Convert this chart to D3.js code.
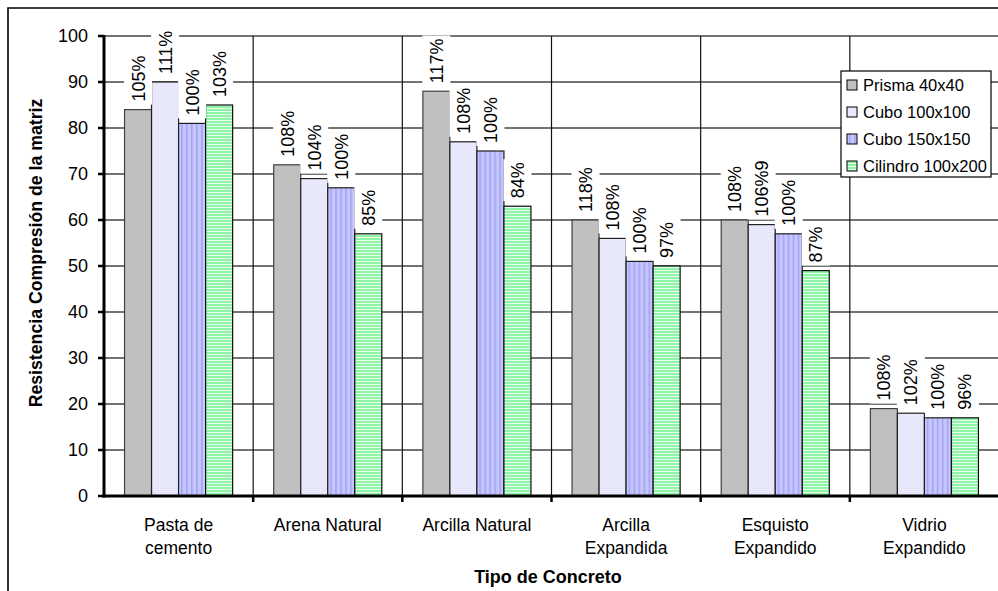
<!DOCTYPE html>
<html>
<head>
<meta charset="utf-8">
<script src="https://cdn.jsdelivr.net/npm/d3@7"></script>
<style>
  html, body { margin: 0; padding: 0; background: #fff; }
  svg { display: block; font-family: "Liberation Sans", Arial, sans-serif; }
</style>
</head>
<body>
<svg id="chart" width="998" height="591"></svg>
<script>
// Concrete types (x categories) and their wrapped label lines
const categories = ["Pasta de cemento", "Arena Natural", "Arcilla Natural", "Arcilla Expandida", "Esquisto Expandido", "Vidrio Expandido"];
const categoryLines = [["Pasta de", "cemento"], ["Arena Natural"], ["Arcilla Natural"], ["Arcilla", "Expandida"], ["Esquisto", "Expandido"], ["Vidrio", "Expandido"]];

// Specimen series
const series = ["Prisma 40x40", "Cubo 100x100", "Cubo 150x150", "Cilindro 100x200"];

// Matrix compressive strength per specimen type
const prisma   = [84, 72, 88, 60, 60, 19];
const cubo100  = [90, 69, 77, 56, 59, 18];
const cubo150  = [81, 67, 75, 51, 57, 17];
const cilindro = [85, 57, 63, 50, 49, 17];

// Relative strength labels (vs. Cubo 150x150)
const prismaLbl   = ["105%", "108%", "117%", "118%", "108%", "108%"];
const cubo100Lbl  = ["111%", "104%", "108%", "108%", "106%9", "102%"];
const cubo150Lbl  = ["100%", "100%", "100%", "100%", "100%", "100%"];
const cilindroLbl = ["103%", "85%", "84%", "97%", "87%", "96%"];

const yTicks = [0, 10, 20, 30, 40, 50, 60, 70, 80, 90, 100];

const seriesValues = [prisma, cubo100, cubo150, cilindro];
const seriesLabels = [prismaLbl, cubo100Lbl, cubo150Lbl, cilindroLbl];

const svg = d3.select("#chart");
const defs = svg.append("defs");

// Fill patterns
const pLav = defs.append("pattern").attr("id", "pLav").attr("patternUnits", "userSpaceOnUse")
  .attr("width", 4).attr("height", 4);
pLav.append("rect").attr("width", 4).attr("height", 4).attr("fill", "#eaeafc");
pLav.append("rect").attr("x", 0).attr("y", 0).attr("width", 1).attr("height", 1).attr("fill", "#dadaf4");
pLav.append("rect").attr("x", 2).attr("y", 2).attr("width", 1).attr("height", 1).attr("fill", "#dadaf4");

const pBlue = defs.append("pattern").attr("id", "pBlue").attr("patternUnits", "userSpaceOnUse")
  .attr("width", 5).attr("height", 5);
pBlue.append("rect").attr("width", 5).attr("height", 5).attr("fill", "#c6c6ff");
pBlue.append("rect").attr("x", 2).attr("width", 1.6).attr("height", 5).attr("fill", "#a4a4f2");

const pGreen = defs.append("pattern").attr("id", "pGreen").attr("patternUnits", "userSpaceOnUse")
  .attr("width", 5).attr("height", 3);
pGreen.append("rect").attr("width", 5).attr("height", 3).attr("fill", "#8ef4a6");
pGreen.append("rect").attr("y", 0).attr("width", 5).attr("height", 1).attr("fill", "#e8fbee");

const fills = ["#c0c0c0", "url(#pLav)", "url(#pBlue)", "url(#pGreen)"];
const strokes = ["#404040", "#202020", "#202020", "#101010"];

// Outer frame
svg.append("path").attr("d", "M8,591 L8,8 L998,8").attr("fill", "none")
  .attr("stroke", "#000").attr("stroke-width", 1.6);

// Scales
const x0 = d3.scaleBand().domain(categories).range([104, 999]).padding(0);
const x1 = d3.scaleBand().domain(series).range([0, x0.bandwidth()]).paddingInner(0).paddingOuter(0.76);
const y = d3.scaleLinear().domain([0, 100]).range([496, 36]);

// Horizontal gridlines
svg.append("g").selectAll("line").data(yTicks.filter(d => d > 0)).join("line")
  .attr("x1", 104).attr("x2", 998)
  .attr("y1", d => y(d)).attr("y2", d => y(d))
  .attr("stroke", "#444").attr("stroke-width", 1.3);

// Vertical gridlines at category boundaries
svg.append("g").selectAll("line").data(categories.slice(1)).join("line")
  .attr("x1", d => x0(d)).attr("x2", d => x0(d))
  .attr("y1", y(100)).attr("y2", y(0))
  .attr("stroke", "#111").attr("stroke-width", 1.2);

// Bars
const groups = svg.append("g").selectAll("g").data(categories).join("g")
  .attr("transform", d => `translate(${x0(d)},0)`);

const barData = (c, ci) => series.map((s, si) => ({ s, si, ci, v: seriesValues[si][ci], lbl: seriesLabels[si][ci] }));

groups.selectAll("rect.bar").data(barData).join("rect")
  .attr("class", "bar")
  .attr("x", d => x1(d.s)).attr("width", x1.bandwidth())
  .attr("y", d => y(d.v)).attr("height", d => y(0) - y(d.v))
  .attr("fill", d => fills[d.si]).attr("stroke", d => strokes[d.si]).attr("stroke-width", 1.2);

// Value labels with white background
const labelFont = 18;
const lbls = groups.selectAll("g.lbl").data(barData).join("g").attr("class", "lbl")
  .attr("transform", d => `translate(${x1(d.s) + x1.bandwidth() / 2},${y(d.v) - 8}) rotate(-90)`);
lbls.append("rect").attr("class", "lblbg").attr("fill", "#fff");
lbls.append("text").attr("x", 0).attr("y", 0).attr("dy", "0.36em")
  .attr("font-size", labelFont).attr("fill", "#000").text(d => d.lbl);
lbls.each(function () {
  const g = d3.select(this);
  const w = g.select("text").node().getComputedTextLength();
  g.select("rect").attr("x", -3).attr("y", -x1.bandwidth() / 2 - 0.5)
    .attr("width", w + 6).attr("height", x1.bandwidth() + 1);
});

// Y axis
const yAxis = svg.append("g").attr("transform", "translate(104,0)");
yAxis.append("line").attr("x1", 0).attr("x2", 0).attr("y1", y(100) - 1).attr("y2", y(0) + 1.5)
  .attr("stroke", "#000").attr("stroke-width", 3);
yAxis.selectAll("line.tick").data(yTicks).join("line").attr("class", "tick")
  .attr("x1", -6).attr("x2", 0).attr("y1", d => y(d)).attr("y2", d => y(d))
  .attr("stroke", "#000").attr("stroke-width", 2.5);
yAxis.selectAll("text").data(yTicks).join("text")
  .attr("x", -16).attr("y", d => y(d)).attr("dy", "0.36em")
  .attr("text-anchor", "end").attr("font-size", 18).attr("fill", "#000").text(d => d);

// X axis
const xAxis = svg.append("g");
xAxis.append("line").attr("x1", 102.5).attr("x2", 998).attr("y1", y(0)).attr("y2", y(0))
  .attr("stroke", "#000").attr("stroke-width", 3);
xAxis.selectAll("line.tick").data(categories.slice(1)).join("line").attr("class", "tick")
  .attr("x1", d => x0(d)).attr("x2", d => x0(d)).attr("y1", y(0)).attr("y2", y(0) + 6)
  .attr("stroke", "#000").attr("stroke-width", 2.5);
xAxis.selectAll("text").data(categories).join("text")
  .attr("x", d => x0(d) + x0.bandwidth() / 2).attr("y", 531)
  .attr("text-anchor", "middle").attr("font-size", 17.5).attr("fill", "#000")
  .each(function (d, i) {
    d3.select(this).selectAll("tspan").data(categoryLines[i]).join("tspan")
      .attr("x", x0(d) + x0.bandwidth() / 2).attr("dy", (l, j) => j === 0 ? 0 : 23).text(l => l);
  });

// Axis titles
svg.append("text").attr("x", 548).attr("y", 583).attr("text-anchor", "middle")
  .attr("font-size", 18).attr("font-weight", "bold").attr("fill", "#000").text("Tipo de Concreto");
svg.append("text").attr("transform", "translate(42,253) rotate(-90)").attr("text-anchor", "middle")
  .attr("font-size", 17.7).attr("font-weight", "bold").attr("fill", "#000")
  .text("Resistencia Compresión de la matriz");

// Legend
const legend = svg.append("g").attr("transform", "translate(841,71)");
legend.append("rect").attr("width", 150).attr("height", 106).attr("fill", "#fff")
  .attr("stroke", "#000").attr("stroke-width", 1.2);
const items = legend.selectAll("g.item").data(series).join("g").attr("class", "item")
  .attr("transform", (d, i) => `translate(6,${14 + i * 27})`);
items.append("rect").attr("x", 0).attr("y", -5).attr("width", 10).attr("height", 10)
  .attr("fill", (d, i) => fills[i]).attr("stroke", "#000").attr("stroke-width", 1);
items.append("text").attr("x", 16).attr("y", 0).attr("dy", "0.36em")
  .attr("font-size", 16.5).attr("fill", "#000").text(d => d);
</script>
</body>
</html>
